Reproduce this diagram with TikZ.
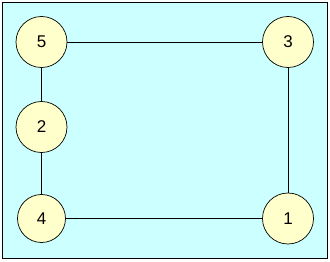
\documentclass[tikz,border=0pt]{standalone}
\usepackage{fontspec}
\setmainfont{Liberation Sans}
\begin{document}
\begin{tikzpicture}[x=1pt,y=-1pt,
  vnode/.style={circle,draw=black,line width=0.7pt,fill=nodeyellow,minimum size=51pt,inner sep=0pt,font=\fontsize{17}{17}\selectfont},
  edge/.style={draw=black,line width=0.8pt}]
\definecolor{bgcyan}{RGB}{204,255,255}
\definecolor{nodeyellow}{RGB}{255,255,204}
\useasboundingbox (0,0) rectangle (330,262);
\fill[white] (0,0) rectangle (330,262);
\draw[fill=bgcyan,line width=1.5pt] (2.5,2.5) rectangle (327.5,258.5);
\node[vnode] (n5) at (41.5,42) {5};
\node[vnode] (n3) at (288,42) {3};
\node[vnode] (n2) at (41.5,127) {2};
\node[vnode,minimum size=48pt] (n4) at (41.5,218.5) {4};
\node[vnode] (n1) at (288,218.5) {1};
\draw[edge] (n5) -- (n3);
\draw[edge] (n5) -- (n2);
\draw[edge] (n2) -- (n4);
\draw[edge] (n4) -- (n1);
\draw[edge] (n3) -- (n1);
\end{tikzpicture}
\end{document}
